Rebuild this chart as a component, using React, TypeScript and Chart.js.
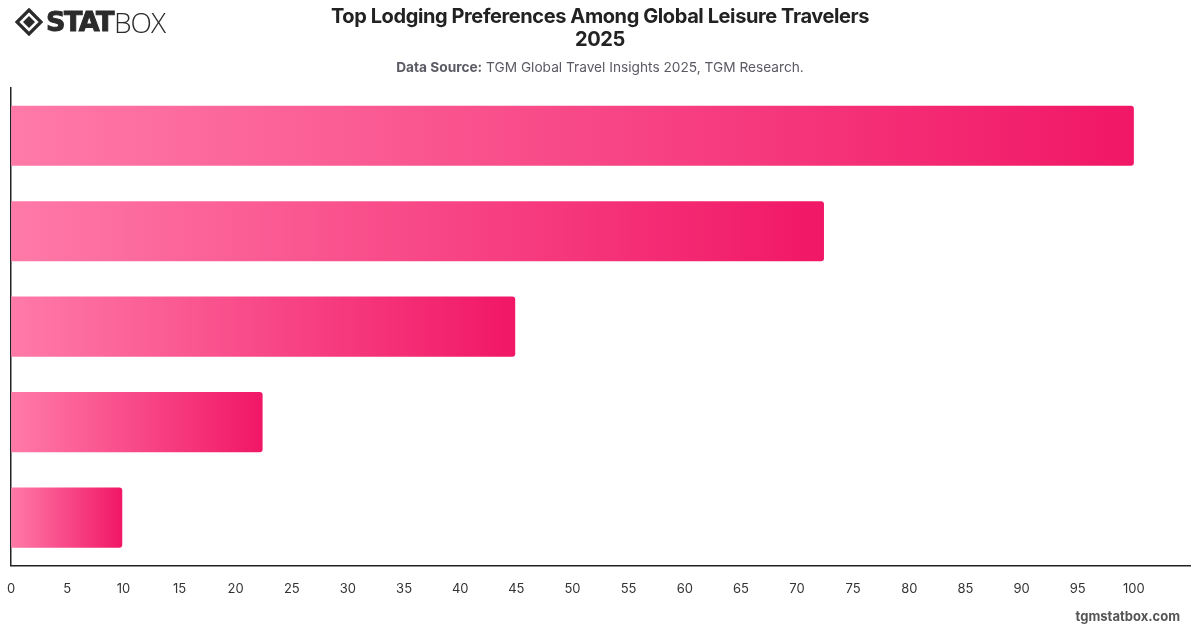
import React, { useEffect, useRef } from "react";
import { Chart, registerables } from "chart.js";

Chart.register(...registerables);

// Lodging types, top to bottom, and their share of travelers
const categories: string[] = [
  "Hotels",
  "Vacation Rentals",
  "Resorts",
  "Hostels",
  "Bed & Breakfast",
];
const shares: number[] = [100, 72.4, 44.9, 22.4, 9.9];

const axisMin = 0;
const axisMax = 105;
const tickStep = 5;

const gradientStart = "#ff7aa8";
const gradientEnd = "#f11766";

const FONT = "Inter, 'Helvetica Neue', Arial, sans-serif";

// The canvas is a little wider than the page so the plot spans almost edge to edge
const CANVAS_LEFT = -9;
const CANVAS_WIDTH = 1215;

function Logo() {
  return (
    <div
      style={{
        position: "absolute",
        left: 15,
        top: 8,
        display: "flex",
        alignItems: "center",
        height: 28,
      }}
    >
      <svg width="28" height="28" viewBox="0 0 28 28">
        <polygon
          points="14,2 26,14 14,26 2,14"
          fill="none"
          stroke="#2b2b2b"
          strokeWidth="3.2"
          strokeLinejoin="miter"
        />
        <polygon points="14,8 20,14 14,20 8,14" fill="#2b2b2b" />
      </svg>
      <span
        style={{
          fontFamily: "'DejaVu Sans', sans-serif",
          fontWeight: 900,
          fontSize: 27,
          color: "#2b2b2b",
          marginLeft: 3,
          letterSpacing: -1.5,
          lineHeight: "28px",
          WebkitTextStroke: "1px #2b2b2b",
        }}
      >
        STAT
      </span>
      <span
        style={{
          fontFamily: "'Open Sans', 'DejaVu Sans', sans-serif",
          fontWeight: 300,
          fontSize: 28,
          color: "#2b2b2b",
          lineHeight: "28px",
          letterSpacing: -1,
          marginLeft: 1,
        }}
      >
        BOX
      </span>
    </div>
  );
}

export default function App() {
  const canvasRef = useRef<HTMLCanvasElement | null>(null);

  useEffect(() => {
    document.body.style.margin = "0";
    const canvas = canvasRef.current;
    if (!canvas) return;

    const chart = new Chart(canvas, {
      type: "bar",
      data: {
        labels: categories,
        datasets: [
          {
            data: shares,
            backgroundColor: (ctx: any) => {
              const c = ctx.chart;
              if (!c.chartArea || !c.scales.x) return gradientEnd;
              const xs = c.scales.x;
              const x0 = xs.getPixelForValue(0);
              const x1 = xs.getPixelForValue(ctx.raw as number);
              const g = c.ctx.createLinearGradient(x0, 0, Math.max(x1, x0 + 1), 0);
              g.addColorStop(0, gradientStart);
              g.addColorStop(1, gradientEnd);
              return g;
            },
            borderWidth: 0,
            borderRadius: { topRight: 3, bottomRight: 3, topLeft: 0, bottomLeft: 0 },
            borderSkipped: "start",
            barPercentage: 0.7,
            categoryPercentage: 0.9,
          },
        ],
      },
      options: {
        indexAxis: "y",
        responsive: false,
        animation: false,
        layout: { padding: { top: 88, left: 2, right: 4, bottom: 15 } },
        plugins: {
          legend: { display: false },
          tooltip: { enabled: false },
          title: { display: false },
        },
        scales: {
          x: {
            min: axisMin,
            max: axisMax,
            grid: { display: false, drawTicks: false },
            border: { display: true, color: "#222", width: 1.5 },
            ticks: {
              stepSize: tickStep,
              padding: 16,
              color: "#333",
              font: { family: FONT, size: 13 },
              maxRotation: 0,
              autoSkip: false,
              callback: (v: any) => (Number(v) >= axisMax ? "" : String(v)),
            },
          },
          y: {
            grid: { display: false, drawTicks: false },
            border: { display: true, color: "#222", width: 1.5 },
            ticks: { display: false },
            afterFit: (scale: any) => {
              scale.width = 0;
            },
          },
        },
      },
    });

    return () => chart.destroy();
  }, []);

  return (
    <div
      style={{
        position: "fixed",
        left: 0,
        top: 0,
        width: 1200,
        height: 628,
        background: "#fff",
        overflow: "hidden",
        fontFamily: FONT,
      }}
    >
      <canvas
        ref={canvasRef}
        width={CANVAS_WIDTH}
        height={628}
        style={{
          position: "absolute",
          left: CANVAS_LEFT,
          top: 0,
          width: CANVAS_WIDTH,
          height: 628,
        }}
      />
      <Logo />
      <div
        style={{
          position: "absolute",
          left: 0,
          width: 1200,
          top: 5,
          textAlign: "center",
          fontWeight: 700,
          fontSize: 20,
          lineHeight: "23px",
          color: "#222",
          letterSpacing: -0.4,
        }}
      >
        Top Lodging Preferences Among Global Leisure Travelers
        <br />
        2025
      </div>
      <div
        style={{
          position: "absolute",
          left: 0,
          width: 1200,
          top: 58,
          textAlign: "center",
          fontSize: 13.7,
          lineHeight: "18px",
          color: "#5a5a64",
        }}
      >
        <span style={{ fontWeight: 700 }}>Data Source:</span> TGM Global Travel
        Insights 2025, TGM Research.
      </div>
      <div
        style={{
          position: "absolute",
          right: 20,
          top: 607,
          fontSize: 13,
          fontWeight: 700,
          color: "#555",
          lineHeight: "18px",
        }}
      >
        tgmstatbox.com
      </div>
    </div>
  );
}
